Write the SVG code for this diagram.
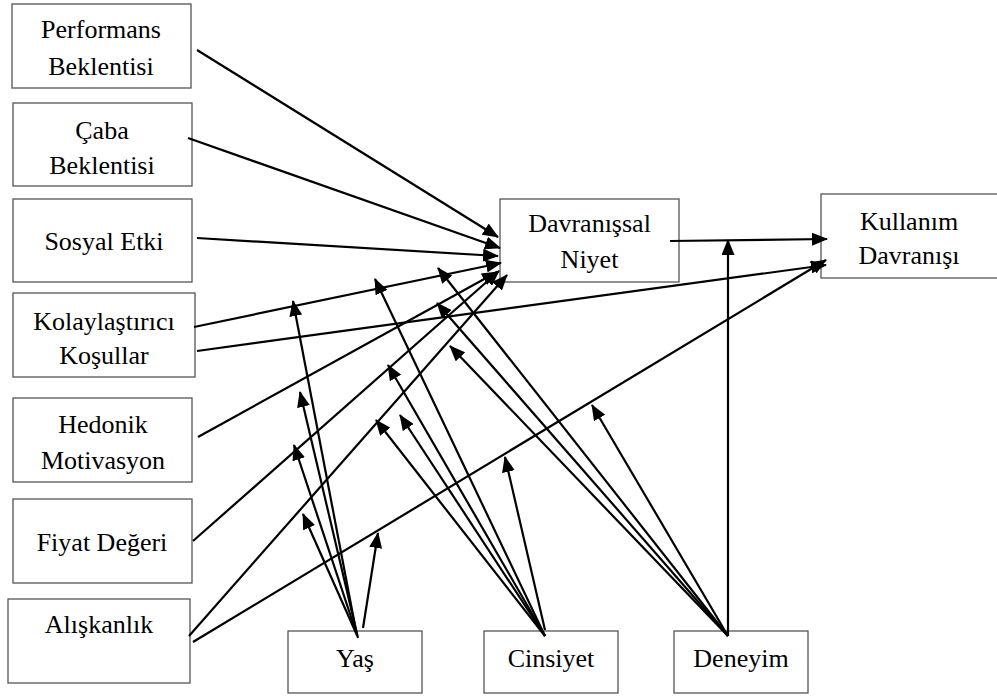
<svg xmlns="http://www.w3.org/2000/svg" width="997" height="698" viewBox="0 0 997 698">
<defs>
<marker id="ah" markerUnits="userSpaceOnUse" markerWidth="16" markerHeight="13" refX="15" refY="6.5" orient="auto">
<path d="M0,0 L16,6.5 L0,13 z" fill="#000"/>
</marker>
<style>
.box{fill:#fff;stroke:#555;stroke-width:1.3}
.t{font-size:26px;fill:#000;text-anchor:middle}
.c line{stroke:#000;stroke-width:2.2;marker-end:url(#ah)}
</style>
</defs>
<rect width="997" height="698" fill="#fff"/>
<g id="nodes" font-family="Liberation Serif, Times New Roman, serif">
<g id="performans"><rect class="box" x="12" y="4" width="179" height="84"/><text class="t" x="101" y="38">Performans</text><text class="t" x="101" y="75">Beklentisi</text></g>
<g id="caba"><rect class="box" x="13" y="103" width="179" height="83"/><text class="t" x="102" y="139">Çaba</text><text class="t" x="102" y="174">Beklentisi</text></g>
<g id="sosyal"><rect class="box" x="13" y="199" width="179" height="83"/><text class="t" x="104" y="250">Sosyal Etki</text></g>
<g id="kolay"><rect class="box" x="13" y="293" width="182" height="84"/><text class="t" x="104" y="330">Kolaylaştırıcı</text><text class="t" x="104" y="364">Koşullar</text></g>
<g id="hedonik"><rect class="box" x="13" y="398" width="179" height="84"/><text class="t" x="103" y="433">Hedonik</text><text class="t" x="103" y="469">Motivasyon</text></g>
<g id="fiyat"><rect class="box" x="13" y="499" width="179" height="84"/><text class="t" x="102" y="551">Fiyat Değeri</text></g>
<g id="aliskanlik"><rect class="box" x="8" y="599" width="182" height="84"/><text class="t" x="99" y="633">Alışkanlık</text></g>
<g id="niyet"><rect class="box" x="500" y="199" width="179" height="83"/><text class="t" x="589.5" y="232">Davranışsal</text><text class="t" x="589.5" y="268">Niyet</text></g>
<g id="kullanim"><rect class="box" x="821" y="194" width="184" height="84"/><text class="t" x="909" y="230">Kullanım</text><text class="t" x="909" y="264">Davranışı</text></g>
<g id="yas"><rect class="box" x="288" y="631" width="134" height="62"/><text class="t" x="355" y="667">Yaş</text></g>
<g id="cinsiyet"><rect class="box" x="484" y="631" width="134" height="62"/><text class="t" x="551" y="667">Cinsiyet</text></g>
<g id="deneyim"><rect class="box" x="674" y="631" width="134" height="62"/><text class="t" x="741" y="667">Deneyim</text></g>
</g>
<g id="connectors" class="c">
<line x1="197" y1="50" x2="498" y2="237"/>
<line x1="188" y1="138" x2="500" y2="248"/>
<line x1="197" y1="238" x2="498" y2="256"/>
<line x1="194" y1="327" x2="501" y2="263"/>
<line x1="198" y1="437" x2="497" y2="272"/>
<line x1="193" y1="541" x2="499" y2="271"/>
<line x1="189" y1="636" x2="507" y2="275"/>
<line x1="197" y1="351" x2="826" y2="265"/>
<line x1="193" y1="642" x2="826" y2="260"/>
<line x1="670" y1="241" x2="827" y2="239"/>
<line x1="728" y1="636" x2="728" y2="240"/>
<line x1="357" y1="636" x2="293" y2="301"/>
<line x1="358" y1="638" x2="300" y2="392"/>
<line x1="357" y1="635" x2="294" y2="445"/>
<line x1="356" y1="633" x2="303" y2="514"/>
<line x1="363" y1="628" x2="378" y2="533"/>
<line x1="545" y1="636" x2="375" y2="279"/>
<line x1="545" y1="636" x2="388" y2="365"/>
<line x1="545" y1="636" x2="400" y2="415"/>
<line x1="545" y1="636" x2="376" y2="420"/>
<line x1="545" y1="630" x2="505" y2="457"/>
<line x1="728" y1="636" x2="438" y2="268"/>
<line x1="728" y1="636" x2="437" y2="303"/>
<line x1="728" y1="636" x2="450" y2="346"/>
<line x1="728" y1="636" x2="592" y2="405"/>
</g>
</svg>
